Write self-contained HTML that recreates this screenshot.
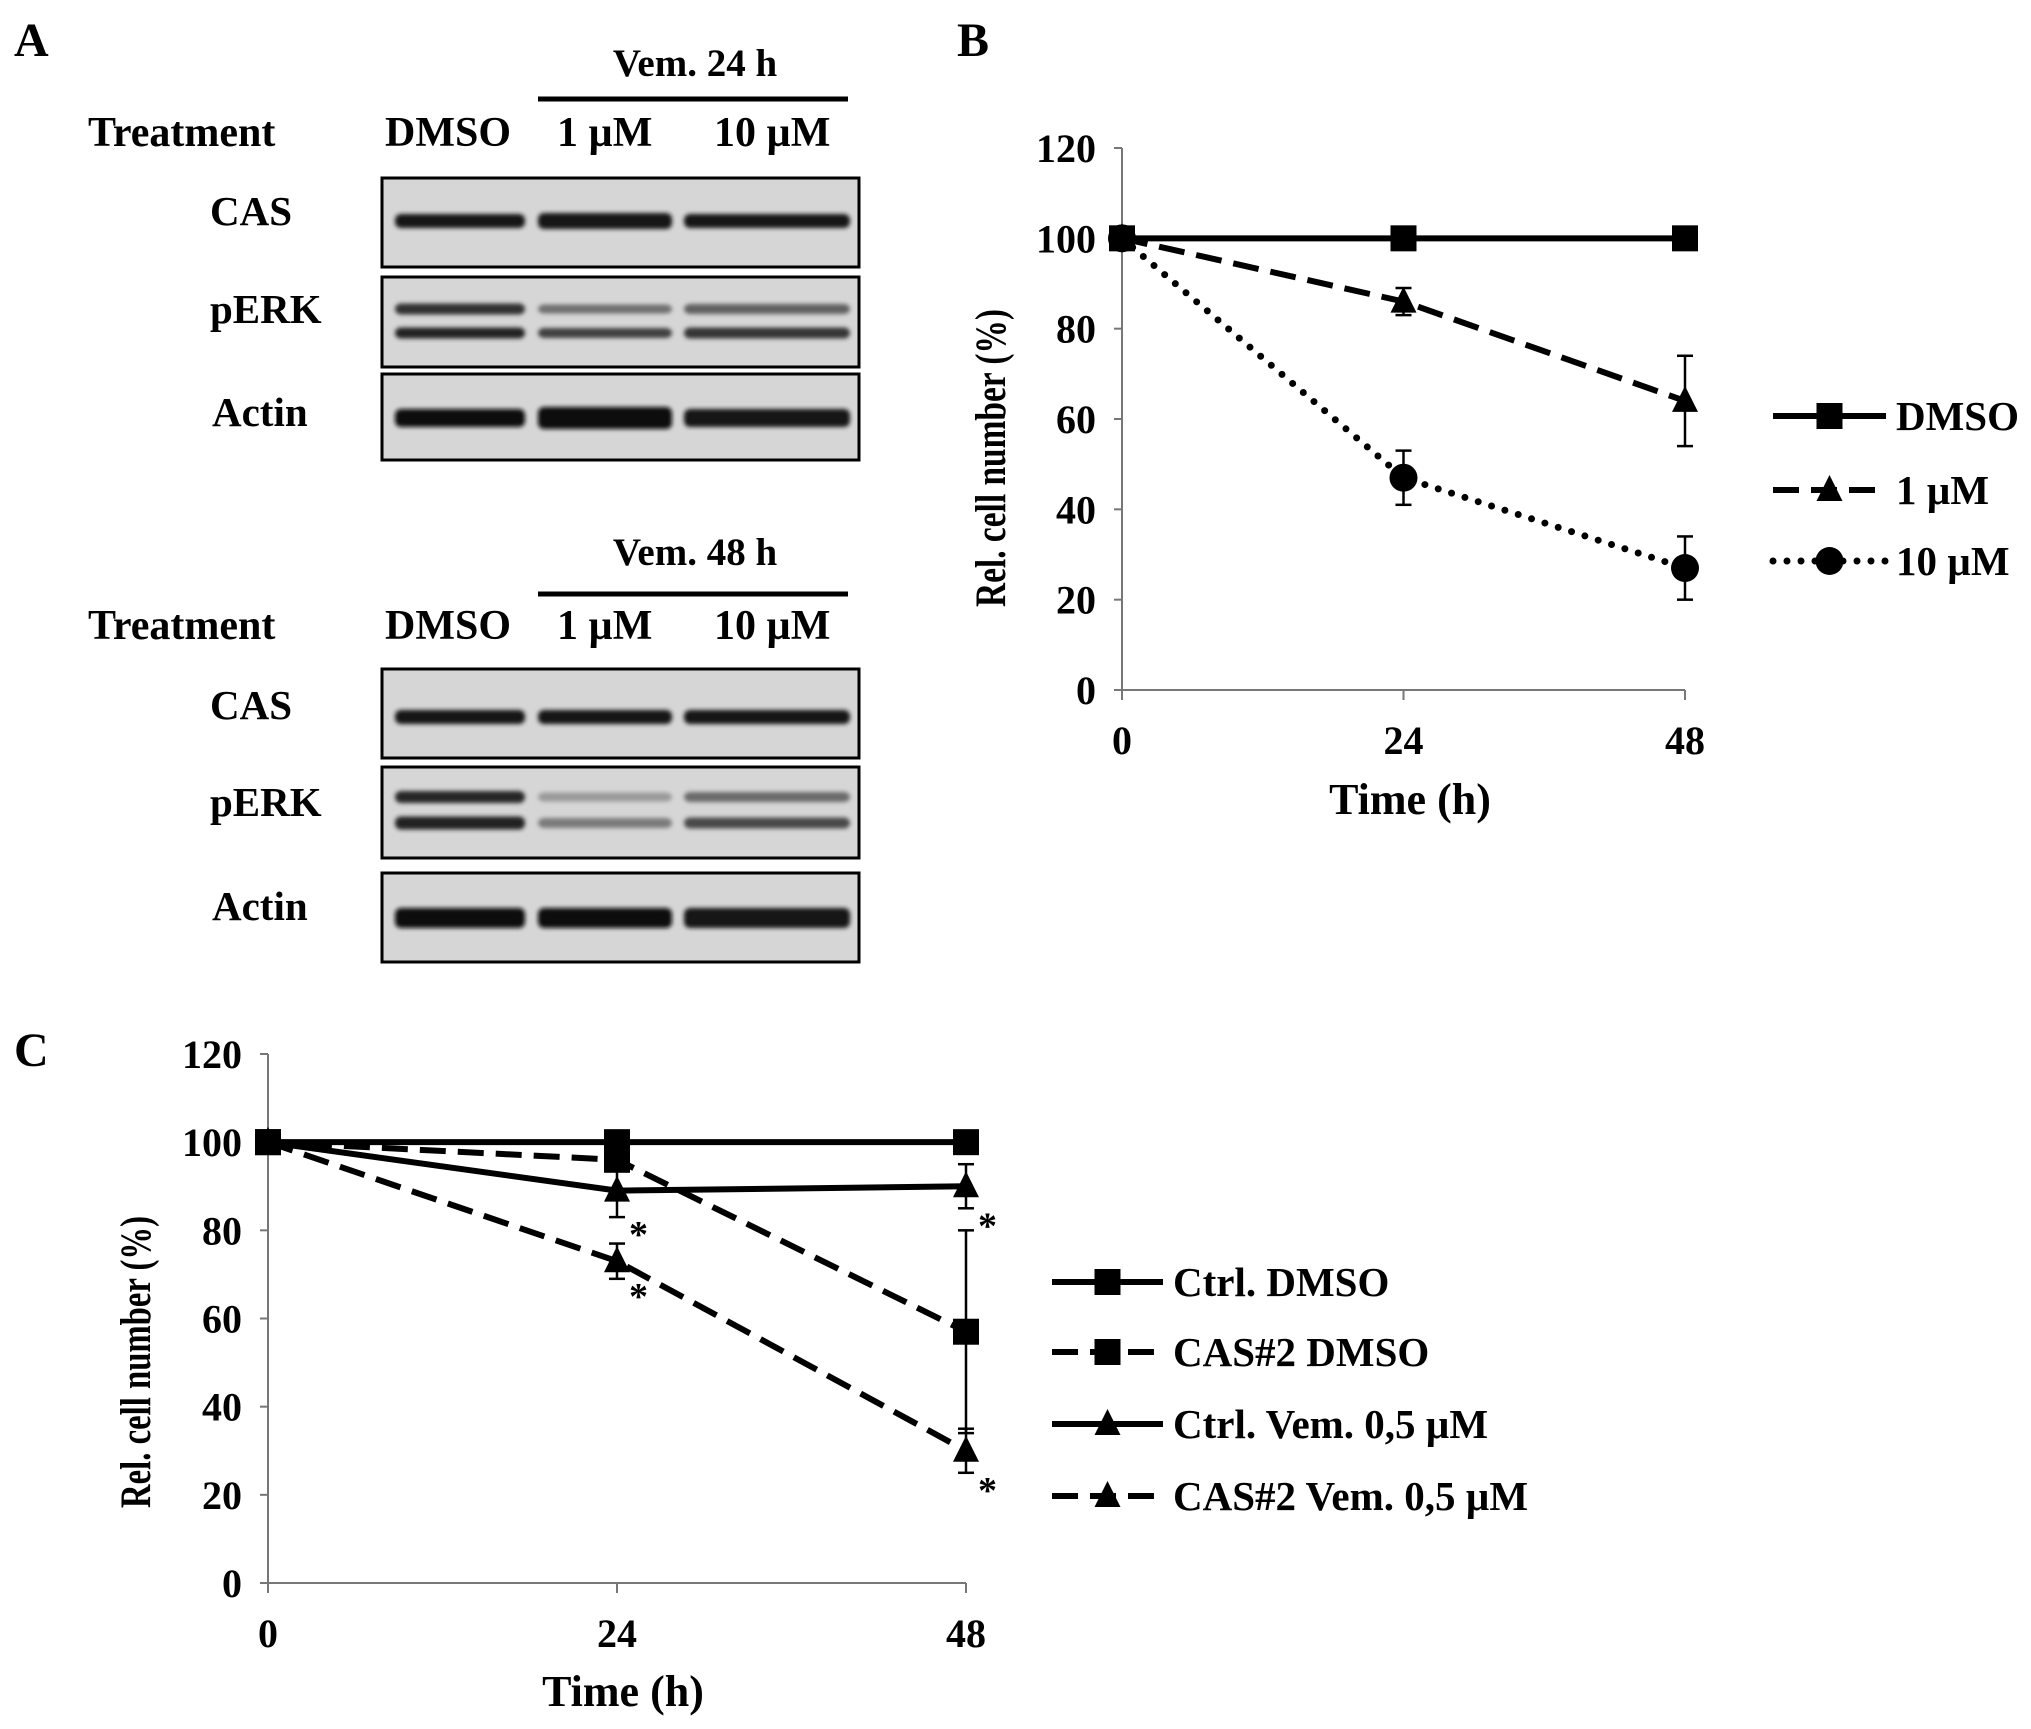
<!DOCTYPE html>
<html><head><meta charset="utf-8"><style>
html,body{margin:0;padding:0;background:#fff;}
svg{display:block;font-family:"Liberation Serif",serif;font-weight:bold;}
</style></head><body>
<svg id="fig" width="2031" height="1729" viewBox="0 0 2031 1729" xmlns="http://www.w3.org/2000/svg">
<defs><filter id="blur" x="-5%" y="-50%" width="110%" height="200%"><feGaussianBlur stdDeviation="2.2"/></filter></defs>
<g id="panelA"></g>
<g id="panelB"></g>
<g id="panelC"></g>
</svg>
<script>
// ===== Panel B data =====
const bTimes = [0, 24, 48];
const bTickY = [0, 20, 40, 60, 80, 100, 120];
const bNames = ["DMSO", "1 µM", "10 µM"];
const bDMSO = [100, 100, 100];
const b1uM = [100, 86, 64];
const b10uM = [100, 47, 27];
const b1uMErr = [0, 3, 10];
const b10uMErr = [0, 6, 7];
// ===== Panel C data =====
const cTimes = [0, 24, 48];
const cTickY = [0, 20, 40, 60, 80, 100, 120];
const cNames = ["Ctrl. DMSO", "CAS#2 DMSO", "Ctrl. Vem. 0,5 µM", "CAS#2 Vem. 0,5 µM"];
const cCtrlDMSO = [100, 100, 100];
const cCasDMSO = [100, 96, 57];
const cCtrlVem = [100, 89, 90];
const cCasVem = [100, 73, 30];
const cCasDMSOErr = [0, 0, 23];
const cCtrlVemErr = [0, 6, 5];
const cCasVemErr = [0, 4, 5];

const NS = "http://www.w3.org/2000/svg";
function mk(parent, tag, attrs, text) {
  const e = document.createElementNS(NS, tag);
  for (const k in attrs) e.setAttribute(k, attrs[k]);
  if (text !== undefined) e.textContent = text;
  parent.appendChild(e);
  return e;
}
function marker(g, type, x, y) {
  let m;
  if (type === "sq") m = mk(g, "rect", {x: x - 13, y: y - 13, width: 26, height: 26, fill: "#000"});
  else if (type === "tri") m = mk(g, "polygon", {points: `${x},${y - 15} ${x + 13},${y + 11} ${x - 13},${y + 11}`, fill: "#000"});
  else m = mk(g, "circle", {cx: x, cy: y, r: 14, fill: "#000"});
  return m;
}
const styles = {
  solid: {"stroke-dasharray": "none"},
  dash: {"stroke-dasharray": "26 12"},
  dot: {"stroke-dasharray": "0 14", "stroke-linecap": "round", "stroke-width": 7}
};
function drawChart(g, cfg) {
  const X = t => cfg.x0 + (cfg.x1 - cfg.x0) * t / 48;
  const Y = v => cfg.y0 - (cfg.y0 - cfg.y1) * v / 120;
  const ax = mk(g, "g", {});
  
  
  mk(ax, "line", {x1: cfg.x0, y1: Y(0), x2: cfg.x0, y2: Y(120), stroke: "#777", "stroke-width": 2});
  mk(ax, "line", {x1: cfg.x0, y1: Y(0), x2: X(48), y2: Y(0), stroke: "#777", "stroke-width": 2});
  cfg.ticksY.forEach(v => {
    mk(ax, "line", {x1: cfg.x0 - 8, y1: Y(v), x2: cfg.x0, y2: Y(v), stroke: "#777", "stroke-width": 2});
    const t = mk(ax, "text", {x: cfg.x0 - 26, y: Y(v) + 14, "text-anchor": "end", "font-size": 40}, String(v));
    
    
  });
  cfg.times.forEach(v => {
    mk(ax, "line", {x1: X(v), y1: Y(0), x2: X(v), y2: Y(0) + 10, stroke: "#777", "stroke-width": 2});
    const t = mk(ax, "text", {x: X(v), y: Y(0) + 64, "text-anchor": "middle", "font-size": 40}, String(v));
    
    
  });
  const xt = mk(ax, "text", {x: cfg.xtX, y: cfg.xtY, "text-anchor": "middle", "font-size": 44}, "Time  (h)");
  
  
  const yt = mk(ax, "text", {x: 0, y: 0, "text-anchor": "middle", "font-size": 43, textLength: cfg.ytLen, lengthAdjust: "spacingAndGlyphs", transform: `translate(${cfg.ytX},${cfg.ytY}) rotate(-90)`}, "Rel. cell number  (%)");
  
  
  cfg.series.forEach((s, i) => {
    const sg = mk(g, "g", {});
    
    
    const pts = s.vals.map((v, j) => `${X(cfg.times[j])},${Y(v)}`).join(" ");
    mk(sg, "polyline", Object.assign({points: pts, fill: "none", stroke: "#000", "stroke-width": 6}, styles[s.style]));
    s.vals.forEach((v, j) => {
      const e = s.err ? s.err[j] : 0;
      if (e > 0) {
        const x = X(cfg.times[j]);
        mk(sg, "line", {x1: x, y1: Y(v - e), x2: x, y2: Y(v + e), stroke: "#000", "stroke-width": 2.5});
        mk(sg, "line", {x1: x - 8, y1: Y(v - e), x2: x + 8, y2: Y(v - e), stroke: "#000", "stroke-width": 2.5});
        mk(sg, "line", {x1: x - 8, y1: Y(v + e), x2: x + 8, y2: Y(v + e), stroke: "#000", "stroke-width": 2.5});
      }
      const m = marker(sg, s.marker, X(cfg.times[j]), Y(v));
      
      
      if (s.star && s.star[j]) {
        const st = mk(sg, "text", {x: X(cfg.times[j]) + 12, y: Y(v - (s.err ? s.err[j] : 0)) + 30, "font-size": 38}, "*");
        
        
      }
    });
    const ly = cfg.legY[i];
    const le = mk(g, "g", {});
    
    
    mk(le, "line", Object.assign({x1: cfg.legX0, y1: ly, x2: cfg.legX1, y2: ly, stroke: "#000", "stroke-width": 6}, styles[s.style]));
    marker(le, s.marker, (cfg.legX0 + cfg.legX1) / 2, ly);
    mk(le, "text", {x: cfg.legX1 + 10, y: ly + 14, "font-size": 41}, s.name);
  });
}
drawChart(document.getElementById("panelB"), {
  x0: 1122, x1: 1685, y0: 690, y1: 148, times: bTimes, ticksY: bTickY,
  xtX: 1410, xtY: 814, ytX: 1005, ytY: 458, ytLen: 298,
  legX0: 1773, legX1: 1886, legY: [416, 490, 561],
  series: [
    {key: "dmso", name: bNames[0], vals: bDMSO, style: "solid", marker: "sq"},
    {key: "1um", name: bNames[1], vals: b1uM, err: b1uMErr, style: "dash", marker: "tri"},
    {key: "10um", name: bNames[2], vals: b10uM, err: b10uMErr, style: "dot", marker: "circ"}
  ]
});
drawChart(document.getElementById("panelC"), {
  x0: 268, x1: 966, y0: 1583, y1: 1054, times: cTimes, ticksY: cTickY,
  xtX: 623, xtY: 1706, ytX: 150, ytY: 1362, ytLen: 292,
  legX0: 1052, legX1: 1163, legY: [1282, 1352, 1424, 1496],
  series: [
    {key: "ctrl-dmso", name: cNames[0], vals: cCtrlDMSO, style: "solid", marker: "sq"},
    {key: "cas2-dmso", name: cNames[1], vals: cCasDMSO, err: cCasDMSOErr, style: "dash", marker: "sq"},
    {key: "ctrl-vem", name: cNames[2], vals: cCtrlVem, err: cCtrlVemErr, style: "solid", marker: "tri", star: [0, 1, 1]},
    {key: "cas2-vem", name: cNames[3], vals: cCasVem, err: cCasVemErr, style: "dash", marker: "tri", star: [0, 1, 1]}
  ]
});

// ===== Panel A: blots =====
const A = document.getElementById("panelA");
function txt(x, y, s, size, name, anchor) {
  const t = mk(A, "text", {x: x, y: y, "font-size": size, "text-anchor": anchor || "start"}, s);
  
  
  return t;
}
txt(14, 56, "A", 48, "panel-label-a");
txt(957, 56, "B", 48, "panel-label-b");
txt(14, 1066, "C", 48, "panel-label-c");
const lanes = [[395, 525], [538, 672], [684, 850]];
function blotSet(top, lineY, tY, title, rows) {
  txt(695, top, title, 39, "treatment-header", "middle");
  mk(A, "line", {x1: 538, y1: lineY, x2: 848, y2: lineY, stroke: "#000", "stroke-width": 5});
  txt(88, tY, "Treatment", 42, "treatment-label");
  txt(385, tY, "DMSO", 42, "lane-label-dmso");
  txt(557, tY, "1 µM", 42, "lane-label-1um");
  txt(714, tY, "10 µM", 42, "lane-label-10um");
  rows.forEach(r => {
    const b = mk(A, "rect", {x: 382, y: r.y0, width: 477, height: r.y1 - r.y0, fill: "#d6d6d6", stroke: "#000", "stroke-width": 3});
    
    
    txt(r.lx, r.ly, r.name, 41, "row-label-" + r.name.toLowerCase());
    r.bands.forEach(bd => {
      lanes.forEach((ln, i) => {
        mk(A, "rect", {x: ln[0], y: bd.y - bd.h[i] / 2, width: ln[1] - ln[0], height: bd.h[i], rx: 6, fill: bd.c[i], filter: "url(#blur)"});
      });
    });
  });
}
blotSet(76, 99, 146, "Vem. 24 h", [
  {name: "CAS", lx: 210, ly: 225, y0: 178, y1: 267, bands: [{y: 221, h: [14, 16, 14], c: ["#151515", "#151515", "#151515"]}]},
  {name: "pERK", lx: 210, ly: 323, y0: 277, y1: 367, bands: [{y: 309, h: [11, 9, 10], c: ["#303030", "#707070", "#606060"]}, {y: 333, h: [11, 10, 11], c: ["#202020", "#404040", "#353535"]}]},
  {name: "Actin", lx: 212, ly: 426, y0: 374, y1: 460, bands: [{y: 418, h: [18, 22, 18], c: ["#101010", "#0a0a0a", "#151515"]}]}
]);
blotSet(565, 594, 639, "Vem. 48 h", [
  {name: "CAS", lx: 210, ly: 719, y0: 669, y1: 758, bands: [{y: 717, h: [14, 14, 14], c: ["#151515", "#151515", "#151515"]}]},
  {name: "pERK", lx: 210, ly: 816, y0: 767, y1: 858, bands: [{y: 797, h: [12, 9, 10], c: ["#282828", "#9a9a9a", "#6a6a6a"]}, {y: 823, h: [13, 10, 11], c: ["#202020", "#7a7a7a", "#484848"]}]},
  {name: "Actin", lx: 212, ly: 920, y0: 873, y1: 962, bands: [{y: 918, h: [20, 20, 20], c: ["#101010", "#101010", "#151515"]}]}
]);
</script>
</body></html>
